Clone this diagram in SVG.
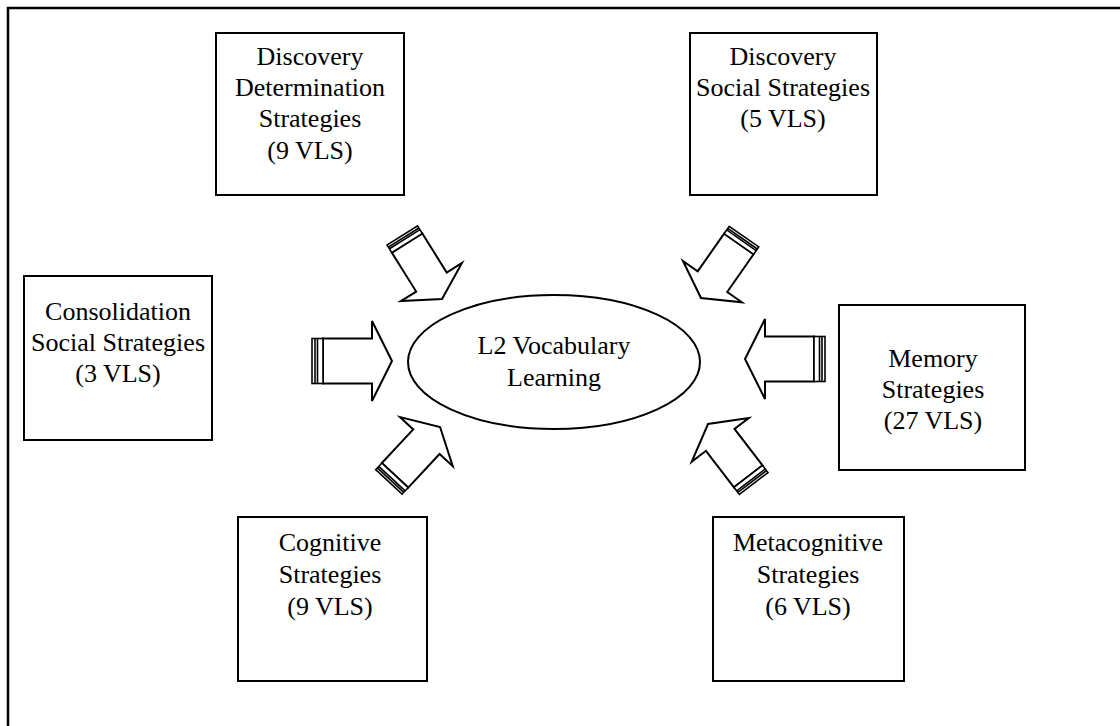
<svg xmlns="http://www.w3.org/2000/svg" width="1120" height="726" viewBox="0 0 1120 726">
<style>
.box{fill:#fff;stroke:#000;stroke-width:2}
.t{font-family:"Liberation Serif","Times New Roman",serif;font-size:26px;fill:#000;text-anchor:middle}
.arr{fill:#fff;stroke:#000;stroke-width:2;stroke-linejoin:miter}
.band{fill:#fff;stroke:#000;stroke-width:1.6}
</style>
<defs>
<g id="arrowH">
<path class="arr" d="M11,-22.5 L60,-22.5 L60,-40 L80,0 L60,40 L60,22.5 L11,22.5 Z"/>
<rect class="band" x="0" y="-22.5" width="11" height="45"/>
<line class="band" x1="3" y1="-22.5" x2="3" y2="22.5"/>
<line class="band" x1="5.5" y1="-22.5" x2="5.5" y2="22.5"/>
</g>
<g id="arrowD">
<path class="arr" d="M9,-18 L55,-18 L55,-36 L75,0 L55,36 L55,18 L9,18 Z"/>
<rect class="band" x="0" y="-18" width="9" height="36"/>
<line class="band" x1="2.5" y1="-18" x2="2.5" y2="18"/>
<line class="band" x1="4.5" y1="-18" x2="4.5" y2="18"/>
</g>
</defs>
<rect x="0" y="0" width="1120" height="726" fill="#fff"/>
<path d="M8,730 L8,8 L1125,8" fill="none" stroke="#000" stroke-width="2.5"/>

<g id="connectors">
<use href="#arrowH" transform="translate(312,361)"/>
<use href="#arrowH" transform="translate(825,359) rotate(180)"/>
<use href="#arrowD" transform="translate(402.3,235.4) rotate(58)"/>
<use href="#arrowD" transform="translate(744,236.6) rotate(125)"/>
<use href="#arrowD" transform="translate(388.9,481.9) rotate(-47)"/>
<use href="#arrowD" transform="translate(753.7,483.5) rotate(-127.5)"/>
</g>

<g id="center">
<ellipse cx="554" cy="362" rx="146" ry="67" fill="#fff" stroke="#000" stroke-width="2"/>
<text class="t" x="554" y="354">L2 Vocabulary</text>
<text class="t" x="554" y="386">Learning</text>
</g>

<g id="discovery-determination">
<rect class="box" x="216" y="33" width="188" height="162"/>
<text class="t" x="310" y="65">Discovery</text>
<text class="t" x="310" y="96">Determination</text>
<text class="t" x="310" y="127">Strategies</text>
<text class="t" x="310" y="159">(9 VLS)</text>
</g>

<g id="discovery-social">
<rect class="box" x="690" y="33" width="187" height="162"/>
<text class="t" x="783" y="65">Discovery</text>
<text class="t" x="783" y="96">Social Strategies</text>
<text class="t" x="783" y="127">(5 VLS)</text>
</g>

<g id="consolidation-social">
<rect class="box" x="24" y="276" width="188" height="164"/>
<text class="t" x="118" y="320">Consolidation</text>
<text class="t" x="118" y="351">Social Strategies</text>
<text class="t" x="118" y="382">(3 VLS)</text>
</g>

<g id="memory">
<rect class="box" x="839" y="305" width="186" height="165"/>
<text class="t" x="933" y="367">Memory</text>
<text class="t" x="933" y="398">Strategies</text>
<text class="t" x="933" y="429">(27 VLS)</text>
</g>

<g id="cognitive">
<rect class="box" x="238" y="517" width="189" height="164"/>
<text class="t" x="330" y="551">Cognitive</text>
<text class="t" x="330" y="583">Strategies</text>
<text class="t" x="330" y="615">(9 VLS)</text>
</g>

<g id="metacognitive">
<rect class="box" x="713" y="517" width="191" height="164"/>
<text class="t" x="808" y="551">Metacognitive</text>
<text class="t" x="808" y="583">Strategies</text>
<text class="t" x="808" y="615">(6 VLS)</text>
</g>
</svg>
